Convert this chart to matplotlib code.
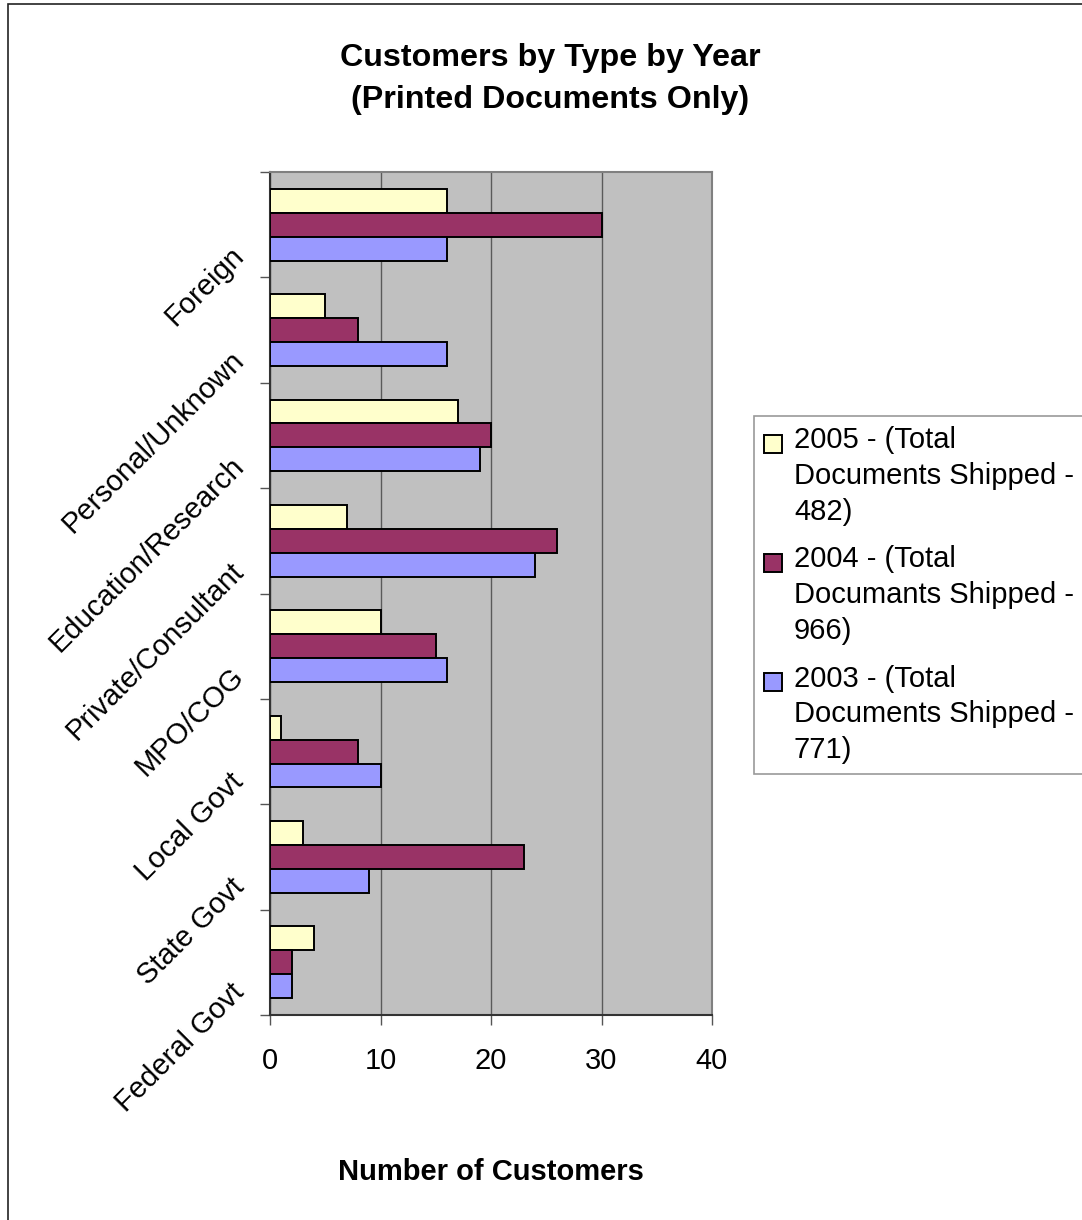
import matplotlib
matplotlib.use("Agg")
import matplotlib.pyplot as plt
import matplotlib.transforms as mtransforms
from matplotlib.patches import Rectangle
from matplotlib.legend_handler import HandlerPatch
import numpy as np

plt.rcParams["font.family"] = ["Liberation Sans", "DejaVu Sans"]

categories = ["Foreign", "Personal/Unknown", "Education/Research", "Private/Consultant",
              "MPO/COG", "Local Govt", "State Govt", "Federal Govt"]
v2005 = [16, 5, 17, 7, 10, 1, 3, 4]
v2004 = [30, 8, 20, 26, 15, 8, 23, 2]
v2003 = [16, 16, 19, 24, 16, 10, 9, 2]
labels = ["2005 - (Total\nDocuments Shipped -\n482)",
          "2004 - (Total\nDocumants Shipped -\n966)",
          "2003 - (Total\nDocuments Shipped -\n771)"]
colors = ["#FFFFCC", "#993366", "#9999FF"]

fig = plt.figure(figsize=(10.82, 12.2), dpi=100)
ax = fig.add_axes([270/1082, 1-1015/1220, 442/1082, 843/1220])
ax.set_facecolor("#C0C0C0")

y = np.arange(len(categories))
h = 0.227
bars = []
for k, (vals, c) in enumerate(zip([v2005, v2004, v2003], colors)):
    b = ax.barh(y + (k-1)*h, vals, height=h, color=c, edgecolor="black", linewidth=1.4, zorder=3)
    bars.append(b)

ax.set_xlim(0, 40)
ax.set_ylim(len(categories)-0.5, -0.5)
ax.set_xticks([0, 10, 20, 30, 40])
ax.xaxis.grid(True, color="#5a5a5a", linewidth=1, zorder=1)
ax.tick_params(axis="x", direction="out", length=7, width=1, color="#555555", pad=16, labelsize=21)

# group boundaries get the tick marks, category names sit at the centres
ax.set_yticks(np.arange(len(categories)+1) - 0.5)
ax.set_yticklabels([])
ax.tick_params(axis="y", which="major", direction="out", length=7, width=1, color="#555555")
ax.set_yticks(y, minor=True)
ax.set_yticklabels(categories, minor=True, rotation=45, ha="right", va="center",
                   rotation_mode="anchor", fontsize=21)
ax.tick_params(axis="y", which="minor", length=0, pad=22)
shift = mtransforms.ScaledTranslation(0, -0.26, fig.dpi_scale_trans)
for lab in ax.get_yticklabels(minor=True):
    lab.set_transform(lab.get_transform() + shift)

for side in ["left", "bottom"]:
    ax.spines[side].set_color("#333333")
    ax.spines[side].set_linewidth(1.5)
for side in ["top", "right"]:
    ax.spines[side].set_color("#808080")
    ax.spines[side].set_linewidth(1.5)

ax.set_xlabel("Number of Customers", fontsize=21, fontweight="bold")
ax.xaxis.set_label_coords(0.5, -0.17)

fig.text(550/1082, 1-79/1220, "Customers by Type by Year\n(Printed Documents Only)",
         ha="center", va="center", fontsize=23.2, fontweight="bold", linespacing=1.55)

LINE_PT = 36 * 0.72  # distance between legend text lines, in points


def top_square(legend, orig_handle, xdescent, ydescent, width, height, fontsize):
    # put the swatch beside the first line of the wrapped label
    return Rectangle((-xdescent, LINE_PT - 1.5), width, width)


leg = fig.legend([b[0] for b in bars], labels, loc="upper left",
                 bbox_to_anchor=(754/1082, 1-416/1220), borderaxespad=0,
                 fontsize=21, frameon=True, fancybox=False, borderpad=0.35,
                 handlelength=0.62, handleheight=0.62, handletextpad=0.4,
                 labelspacing=0.68,
                 handler_map={Rectangle: HandlerPatch(patch_func=top_square)})
for t in leg.get_texts():
    t.set_linespacing(1.35)
leg.get_frame().set_edgecolor("#808080")
leg.get_frame().set_linewidth(1.2)

# outer chart frame
fig.add_artist(Rectangle((8/1082, -0.1), 1.2, 1.1 - 4/1220, transform=fig.transFigure,
                         fill=False, edgecolor="#222222", linewidth=1.2))

fig.savefig("out.png", dpi=100)
